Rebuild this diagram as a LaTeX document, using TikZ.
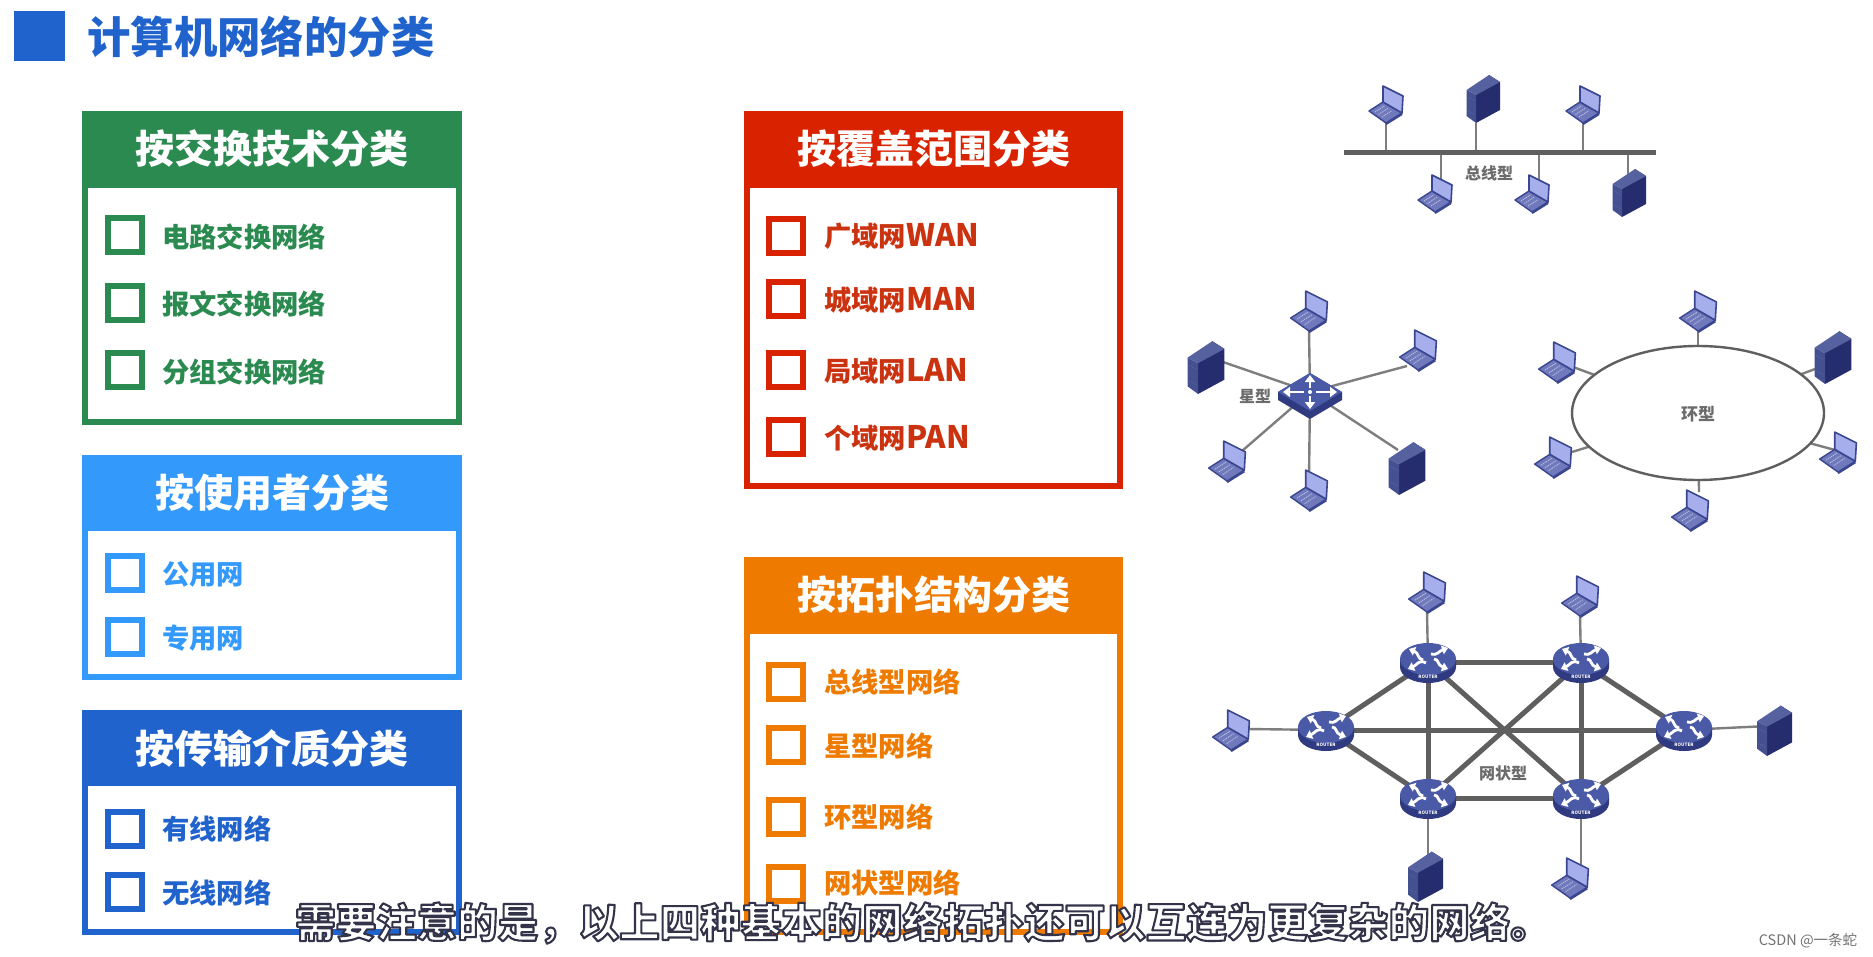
\documentclass[tikz,border=0pt]{standalone}
\usepackage{fontspec}
\usetikzlibrary{arrows.meta}
\newfontfamily\cjk{Noto Sans CJK SC}
\definecolor{cGreen}{HTML}{2A8A50}
\definecolor{cSky}{HTML}{3399FB}
\definecolor{cBlue}{HTML}{2163CC}
\definecolor{cRed}{HTML}{D92300}
\definecolor{cRedText}{HTML}{CB3210}
\definecolor{cOrange}{HTML}{EE7B00}
\definecolor{icoEdge}{HTML}{3B4690}
\definecolor{icoScreen}{HTML}{A6AEEC}
\definecolor{icoBase}{HTML}{7079BC}
\definecolor{srvDark}{HTML}{252D6E}
\definecolor{srvMid}{HTML}{44508F}
\definecolor{srvTop}{HTML}{56629F}
\definecolor{devTop}{HTML}{4A5AA6}
\definecolor{devSide}{HTML}{2F3A80}
\definecolor{lineGray}{HTML}{7E7E7E}
\definecolor{heavyGray}{HTML}{5F5F5F}
\newcommand{\outlined}[1]{\special{pdf:code 1 1 1 rg 0.2 0.2 0.29 RG 2 Tr 2.1 w 1 J 1 j}#1\special{pdf:code 0 Tr 0 G}}
\newcommand{\lat}[1]{{\fontsize{31}{31}\selectfont #1}}
\tikzset{
  titletext/.style={font=\cjk\bfseries\fontsize{43.4}{43.4}\selectfont,text=cBlue,anchor=west,inner sep=0pt},
  panel/.style={draw=#1,line width=6pt,fill=white,inner sep=0pt},
  headbar/.style={fill=#1,inner sep=0pt},
  headtext/.style={font=\cjk\bfseries\fontsize{39}{39}\selectfont,text=white,inner sep=0pt},
  tick/.style={draw=#1,line width=6pt,fill=white,minimum size=34pt,inner sep=0pt,outer sep=0pt},
  itemtext/.style={font=\cjk\bfseries\fontsize{27.3}{27.3}\selectfont,text=#1,anchor=west,inner sep=0pt},
  conn/.style={draw=lineGray,line width=2.4pt},
  heavy/.style={draw=heavyGray,line width=5pt},
  toplabel/.style={font=\cjk\bfseries\fontsize{16}{16}\selectfont,text=black!58,inner sep=0pt},
  pics/laptop/.style={code={
    \draw[icoEdge,line width=1.4pt,line join=round,fill=icoBase] (0,0) -- (-17,-12) -- (-3,-21) -- (16,-10) -- cycle;
    \draw[white!55!icoBase,line width=.8pt,dash pattern=on 1.2pt off .8pt] (-11,-11) -- (-1,-17.5) (-7.5,-8.5) -- (2.5,-15) (-4,-6) -- (6,-12.5);
    \draw[icoEdge,line width=1.6pt,line join=round,fill=icoScreen] (-3,-21) -- (-3,-37) -- (17,-27) -- (16,-10) -- cycle;
    \draw[icoEdge,line width=2.2pt] (0,1) -- (16,-9);
  }},
  pics/server/.style={code={
    \fill[srvDark] (0,0) -- (0,-28) -- (13,-48) -- (24,-41) -- (24,-13) -- cycle;
    \fill[srvMid] (0,0) -- (-9.5,-7) -- (-9.5,-33) -- (0,-28) -- cycle;
    \fill[srvTop] (-9.5,-33) -- (13,-48) -- (24,-41) -- (0,-28) -- cycle;
    \draw[srvTop,line width=.6pt] (-8,-26) -- (-1.5,-22.5) (-8,-12) -- (-1.5,-8.5);
  }},
  pics/switchbox/.style={code={
    \fill[devSide] (-32,0) -- (-32,8) -- (0,27) -- (32,8) -- (32,0) -- (0,-19) -- cycle;
    \fill[devTop] (-32,0) -- (0,-19) -- (32,0) -- (0,19) -- cycle;
    \draw[white,line width=2.6pt,-{Triangle[length=7pt,width=10pt]}] (0,-4) -- (0,-17);
    \draw[white,line width=2.6pt,-{Triangle[length=7pt,width=10pt]}] (0,4) -- (0,17);
    \draw[white,line width=2.6pt,-{Triangle[length=7pt,width=10pt]}] (6,0) -- (27,0);
    \draw[white,line width=2.6pt,-{Triangle[length=7pt,width=10pt]}] (-6,0) -- (-27,0);
    \fill[white] (0,0) circle (2pt);
  }},
  pics/routerbox/.style={code={
    \fill[devSide] (-28,-3) -- (-28,5) arc[start angle=180,end angle=360,x radius=28,y radius=-16] -- (28,-3) -- cycle;
    \fill[devTop] (0,-3) ellipse [x radius=28,y radius=16];
    \draw[white,line width=2.8pt,-{Triangle[length=6pt,width=9pt]}] (-5,-2) .. controls (-11,-3) and (-9,-9) .. (-19,-13);
    \draw[white,line width=2.8pt,-{Triangle[length=6pt,width=9pt]}] (3,-8) .. controls (9,-6) and (11,-11) .. (20,-14);
    \draw[white,line width=2.8pt,-{Triangle[length=6pt,width=9pt]}] (-2,1) .. controls (-9,-3) and (-11,3) .. (-20,7);
    \draw[white,line width=2.8pt,-{Triangle[length=6pt,width=9pt]}] (6,-3) .. controls (11,-3) and (9,3) .. (20,7);
    \node[font=\cjk\bfseries\fontsize{4.5}{4.5}\selectfont,text=white,inner sep=0pt] (tag) at (0,15) {ROUTER};
  }},
}
\begin{document}
\begin{tikzpicture}[x=1pt,y=-1pt]
\useasboundingbox (0,0) rectangle (1873,957);
\fill[white] (0,0) rectangle (1873,957);
% title
\node[fill=cBlue,minimum width=51pt,minimum height=50pt,inner sep=0pt,outer sep=0pt] (mark) at (39.5,36) {};
\node[titletext] (title) at (87,37) {计算机网络的分类};
% green panel
\node[panel=cGreen,minimum width=374pt,minimum height=307pt] (pA) at (272,268.5) {};
\node[headbar=cGreen,minimum width=380pt,minimum height=77pt] (hA) at (272,150) {};
\node[headtext] (tA) at (272,149) {按交换技术分类};
\node[tick=cGreen] (a1) at (124.5,235.5) {}; \node[itemtext=cGreen] (ta1) at (162,237) {电路交换网络};
\node[tick=cGreen] (a2) at (124.5,303) {};   \node[itemtext=cGreen] (ta2) at (162,304) {报文交换网络};
\node[tick=cGreen] (a3) at (124.5,370) {};   \node[itemtext=cGreen] (ta3) at (162,372) {分组交换网络};
% sky panel
\node[panel=cSky,minimum width=374pt,minimum height=219pt] (pB) at (272,567.5) {};
\node[headbar=cSky,minimum width=380pt,minimum height=76pt] (hB) at (272,493) {};
\node[headtext] (tB) at (272,493) {按使用者分类};
\node[tick=cSky] (b1) at (124.5,573) {}; \node[itemtext=cSky] (tb1) at (162,574) {公用网};
\node[tick=cSky] (b2) at (124.5,637) {}; \node[itemtext=cSky] (tb2) at (162,638) {专用网};
% blue panel
\node[panel=cBlue,minimum width=374pt,minimum height=219pt] (pC) at (272,822.5) {};
\node[headbar=cBlue,minimum width=380pt,minimum height=76pt] (hC) at (272,748) {};
\node[headtext] (tC) at (272,748) {按传输介质分类};
\node[tick=cBlue] (c1) at (124.5,829) {}; \node[itemtext=cBlue] (tc1) at (162,829) {有线网络};
\node[tick=cBlue] (c2) at (124.5,892) {}; \node[itemtext=cBlue] (tc2) at (162,893) {无线网络};
% red panel
\node[panel=cRed,minimum width=373pt,minimum height=371pt] (pD) at (933.5,300.5) {};
\node[headbar=cRed,minimum width=379pt,minimum height=77pt] (hD) at (933.5,150) {};
\node[headtext] (tD) at (933.5,149) {按覆盖范围分类};
\node[tick=cRed] (d1) at (786,236) {}; \node[itemtext=cRedText] (td1) at (824,236) {广域网\lat{WAN}};
\node[tick=cRed] (d2) at (786,299) {}; \node[itemtext=cRedText] (td2) at (824,300) {城域网\lat{MAN}};
\node[tick=cRed] (d3) at (786,370) {}; \node[itemtext=cRedText] (td3) at (824,371) {局域网\lat{LAN}};
\node[tick=cRed] (d4) at (786,437) {}; \node[itemtext=cRedText] (td4) at (824,438) {个域网\lat{PAN}};
% orange panel
\node[panel=cOrange,minimum width=373pt,minimum height=372pt] (pE) at (933.5,746) {};
\node[headbar=cOrange,minimum width=379pt,minimum height=77pt] (hE) at (933.5,595.5) {};
\node[headtext] (tE) at (933.5,595) {按拓扑结构分类};
\node[tick=cOrange] (e1) at (786,682) {}; \node[itemtext=cOrange] (te1) at (824,682) {总线型网络};
\node[tick=cOrange] (e2) at (786,745) {}; \node[itemtext=cOrange] (te2) at (824,746) {星型网络};
\node[tick=cOrange] (e3) at (786,817) {}; \node[itemtext=cOrange] (te3) at (824,817) {环型网络};
\node[tick=cOrange] (e4) at (786,884) {}; \node[itemtext=cOrange] (te4) at (824,883) {网状型网络};

% bus topology
\coordinate (busL) at (1344,153);
\coordinate (busR) at (1656,153);
\coordinate (bl1) at (1386,123);
\coordinate (bs1) at (1476,123);
\coordinate (bl2) at (1583,123);
\coordinate (bl3a) at (1441,195);
\coordinate (bl4a) at (1539,195);
\coordinate (bs2a) at (1628,180);
\draw[conn] (bl1) -- (bl1 |- busL);
\draw[conn] (bs1) -- (bs1 |- busL);
\draw[conn] (bl2) -- (bl2 |- busL);
\draw[conn] (bl3a) -- (bl3a |- busL);
\draw[conn] (bl4a) -- (bl4a |- busL);
\draw[conn] (bs2a) -- (bs2a |- busL);
\draw[draw=heavyGray,line width=5pt] (busL) -- (busR);
\pic at (bl1) {laptop};
\pic at (bs1) {server};
\pic at (bl2) {laptop};
\pic at (1435,212) {laptop};
\pic at (1532,212) {laptop};
\pic at (1622,217) {server};
\node[toplabel] (busT) at (1489,173) {总线型};

% star topology
\coordinate (sw) at (1310,392);
\coordinate (st1) at (1309,331);
\coordinate (st2) at (1407,366);
\coordinate (st3) at (1242,451);
\coordinate (st4) at (1309,480);
\coordinate (st5) at (1223,362);
\coordinate (st6) at (1398,450);
\foreach \e in {st1,st2,st3,st4,st5,st6} \draw[conn] (sw) -- (\e);
\pic at (sw) {switchbox};
\pic[scale=1.08] at (st1) {laptop};
\pic[scale=1.08] at (1418,370) {laptop};
\pic[scale=1.08] at (1227,481) {laptop};
\pic[scale=1.08] at (1309,510) {laptop};
\pic[scale=1.1] at (1198,394) {server};
\pic[scale=1.1] at (1399,495) {server};
\node[toplabel] (starT) at (1255,396) {星型};

% ring topology
\coordinate (ringC) at (1698,413);
\coordinate (rg1) at (1698,331);
\coordinate (rg2) at (1573,367);
\coordinate (rg3) at (1572,452);
\coordinate (rg4) at (1699,492);
\coordinate (rg5) at (1835,450);
\coordinate (rg6) at (1815,369);
\foreach \e in {rg1,rg2,rg3,rg4,rg5,rg6} \draw[conn] (ringC) -- (\e);
\draw[draw=heavyGray,line width=2.4pt,fill=white] (ringC) ellipse [x radius=126,y radius=67];
\pic[scale=1.08] at (rg1) {laptop};
\pic[scale=1.08] at (1557,382) {laptop};
\pic[scale=1.08] at (1553,477) {laptop};
\pic[scale=1.08] at (1690,530) {laptop};
\pic[scale=1.08] at (1838,472) {laptop};
\pic[scale=1.1] at (1825,384) {server};
\node[toplabel,font=\cjk\bfseries\fontsize{17}{17}\selectfont] (ringT) at (1698,414) {环型};

% mesh topology
\coordinate (rA) at (1428,662);
\coordinate (rB) at (1581,662);
\coordinate (rC) at (1326,730);
\coordinate (rD) at (1684,730);
\coordinate (rE) at (1428,798);
\coordinate (rF) at (1581,798);
\coordinate (mt1) at (1427,612);
\coordinate (mt2) at (1580,616);
\coordinate (mt3) at (1247,729);
\coordinate (mt4) at (1768,726);
\coordinate (mt5) at (1428,870);
\coordinate (mt6) at (1581,870);
\draw[conn] (rA) -- (mt1);
\draw[conn] (rB) -- (mt2);
\draw[conn] (rC) -- (mt3);
\draw[conn] (rD) -- (mt4);
\draw[conn] (rE) -- (mt5);
\draw[conn] (rF) -- (mt6);
\draw[heavy] (rA) -- (rB);
\draw[heavy] (rA) -- (rE);
\draw[heavy] (rB) -- (rF);
\draw[heavy] (rC) -- (rD);
\draw[heavy] (rE) -- (rF);
\draw[heavy] (rC) -- (rA);
\draw[heavy] (rC) -- (rE);
\draw[heavy] (rD) -- (rB);
\draw[heavy] (rD) -- (rF);
\draw[heavy] (rA) -- (rF);
\draw[heavy] (rB) -- (rE);
\pic (ra) at (rA) {routerbox};
\pic (rb) at (rB) {routerbox};
\pic (rc) at (rC) {routerbox};
\pic (rd) at (rD) {routerbox};
\pic (re) at (rE) {routerbox};
\pic (rf) at (rF) {routerbox};
\pic[scale=1.08] at (mt1) {laptop};
\pic[scale=1.08] at (mt2) {laptop};
\pic[scale=1.08] at (1231,750) {laptop};
\pic[scale=1.05] at (1767,756) {server};
\pic[scale=1.05] at (1418,902) {server};
\pic[scale=1.08] at (1570,898) {laptop};
\node[toplabel] (meshT) at (1503,773) {网状型};

% subtitle and watermark
\node[font=\cjk\bfseries\fontsize{40.5}{40.5}\selectfont,text=white,inner sep=0pt,anchor=center] (sub) at (923,923) {\outlined{需要注意的是\char"FF0C 以上四种基本的网络拓扑还可以互连为更复杂的网络。}};
\node[font=\cjk\fontsize{14.5}{14.5}\selectfont,text=black!55,inner sep=0pt] (mark2) at (1808,941) {CSDN @一条蛇};
\end{tikzpicture}
\end{document}
